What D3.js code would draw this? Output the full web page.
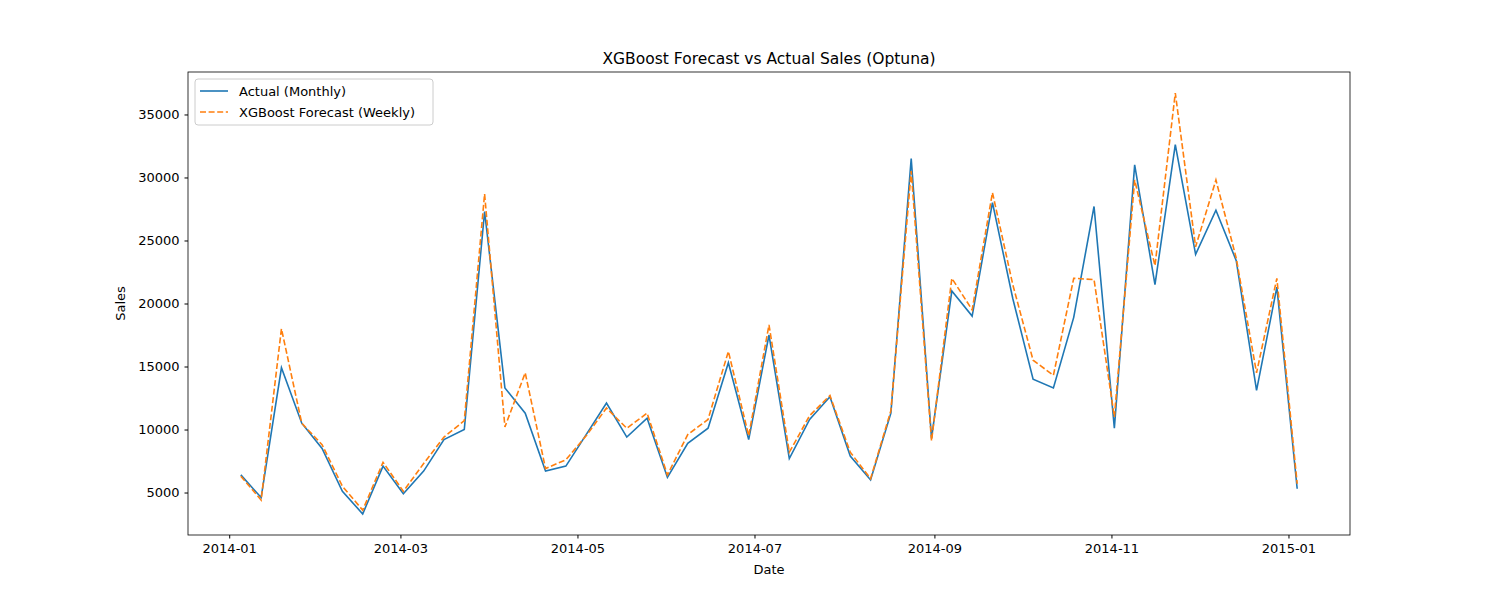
<!DOCTYPE html>
<html><head><meta charset="utf-8">
<script src="https://cdn.jsdelivr.net/npm/d3@7"></script>
<style>body{margin:0;background:#fff}text{font-family:"DejaVu Sans",sans-serif}</style>
</head><body>
<svg id="chart" width="1500" height="600"></svg>
<script>
var startDate = "2014-01-05";
var actual = [6400,4600,14900,10500,8500,5100,3300,7100,4900,6700,9200,10000,27300,13300,11300,6700,7100,9600,12100,9400,10900,6200,8900,10100,15300,9200,17500,7700,10800,12600,7900,6000,11300,31500,9300,21000,19000,28000,20400,14000,13300,18900,27700,10100,31000,21500,32600,23900,27400,23400,13100,21300,5300];
var forecast = [6300,4400,18000,10500,8800,5500,3600,7400,5100,7300,9400,10700,28700,10200,14500,6900,7600,9500,11700,10100,11300,6400,9600,10800,16200,9500,18300,8200,11100,12700,8200,6100,11500,30500,9100,22000,19500,28800,21500,15500,14300,22000,21900,11000,29800,23000,36700,24500,29800,23600,14500,22000,5700];
var xTicks = ["2014-01","2014-03","2014-05","2014-07","2014-09","2014-11","2015-01"];
var yTicks = [5000,10000,15000,20000,25000,30000,35000];

var parse = d3.utcParse("%Y-%m-%d");
var t0 = parse(startDate);
var dates = actual.map(function(d,i){ return d3.utcDay.offset(t0, 7*i); });

var L=188, R=1350, T=72, B=535;
var svg = d3.select("#chart");
var span = dates[dates.length-1] - dates[0];
var x = d3.scaleUtc().domain([+dates[0]-span*0.05, +dates[dates.length-1]+span*0.05]).range([L,R]);
var all = actual.concat(forecast);
var ymin = d3.min(all), ymax = d3.max(all), pad=(ymax-ymin)*0.05;
var y = d3.scaleLinear().domain([ymin-pad, ymax+pad]).range([B,T]);

var xa = svg.append("g").attr("transform","translate(0,"+B+")")
  .call(d3.axisBottom(x).tickValues(xTicks.map(function(s){return parse(s+"-01");})).tickFormat(d3.utcFormat("%Y-%m")).tickSizeOuter(0).tickSize(3.5).tickPadding(5));
var ya = svg.append("g").attr("transform","translate("+L+",0)")
  .call(d3.axisLeft(y).tickValues(yTicks).tickSizeOuter(0).tickSize(3.5).tickPadding(5).tickFormat(d3.format("d")));
[xa,ya].forEach(function(a){ a.select(".domain").remove(); a.selectAll("text").attr("font-size",13).attr("fill","#000"); a.selectAll("line").attr("stroke","#000"); });

svg.append("rect").attr("x",L).attr("y",T).attr("width",R-L).attr("height",B-T).attr("fill","none").attr("stroke","#000").attr("stroke-width",0.8);

var line = d3.line().x(function(d,i){return x(dates[i]);}).y(function(d){return y(d);});
svg.append("path").datum(actual).attr("d",line).attr("fill","none").attr("stroke","#1f77b4").attr("stroke-width",1.6);
svg.append("path").datum(forecast).attr("d",line).attr("fill","none").attr("stroke","#ff7f0e").attr("stroke-width",1.6).attr("stroke-dasharray","6,2.6");

svg.append("text").attr("x",(L+R)/2).attr("y",64).attr("text-anchor","middle").attr("font-size",15.5).text("XGBoost Forecast vs Actual Sales (Optuna)");
svg.append("text").attr("x",(L+R)/2).attr("y",574).attr("text-anchor","middle").attr("font-size",13).text("Date");
svg.append("text").attr("transform","translate(125,"+(T+B)/2+") rotate(-90)").attr("text-anchor","middle").attr("font-size",13).text("Sales");

var lg = svg.append("g");
lg.append("rect").attr("x",195).attr("y",79).attr("width",238).attr("height",46).attr("rx",3).attr("fill","#fff").attr("fill-opacity",0.8).attr("stroke","#ccc");
var items=[["Actual (Monthly)","#1f77b4",null],["XGBoost Forecast (Weekly)","#ff7f0e","6,2.6"]];
items.forEach(function(it,i){
  var yy=91+i*21;
  lg.append("line").attr("x1",200).attr("x2",228).attr("y1",yy).attr("y2",yy).attr("stroke",it[1]).attr("stroke-width",1.6).attr("stroke-dasharray",it[2]);
  lg.append("text").attr("x",239).attr("y",yy+4.5).attr("font-size",13).text(it[0]);
});
</script>
</body></html>
